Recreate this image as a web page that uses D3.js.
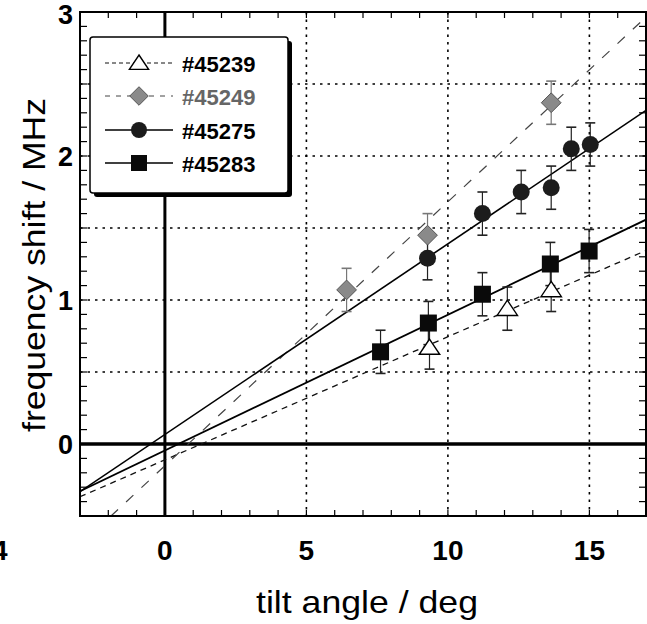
<!DOCTYPE html>
<html>
<head>
<meta charset="utf-8">
<script src="https://cdn.jsdelivr.net/npm/d3@7"></script>
<style>
  body { margin: 0; background: #fff; }
  svg { font-family: "Liberation Sans", Arial, Helvetica, sans-serif; }
</style>
</head>
<body>
<svg></svg>
<script>
// data
const series = ['#45239', '#45249', '#45275', '#45283'];

const tri45239 = [[9.35, 0.67], [12.1, 0.94], [13.65, 1.07]];
const dia45249 = [[6.42, 1.07], [9.28, 1.45], [13.65, 2.37]];
const cir45275 = [[9.28, 1.29], [11.22, 1.60], [12.59, 1.75], [13.65, 1.78], [14.36, 2.05], [15.03, 2.08]];
const sq45283 = [[7.62, 0.64], [9.31, 0.84], [11.22, 1.04], [13.62, 1.25], [14.99, 1.34]];
const errBar = 0.15;

// fit lines: [intercept, slope]
const fits = [[-0.11, 0.0855], [-0.151, 0.1833], [0.066, 0.1324], [-0.045, 0.0943]];

const xTicks = [0, 5, 10, 15];
const yTicks = [0, 1, 2, 3];
const xGrid = [5, 10, 15];
const yGrid = [0.5, 1, 1.5, 2, 2.5];

const size = {w: 647, h: 624};
const plot = {l: 80, r: 646, t: 12, b: 516};
const svg = d3.select('svg').attr('width', size.w).attr('height', size.h);

const x = d3.scaleLinear().domain([-3, 17]).range([plot.l, plot.r]);
const y = d3.scaleLinear().domain([-0.5, 3]).range([plot.b, plot.t]);

svg.append('defs').append('clipPath').attr('id', 'clip')
    .append('rect')
    .attr('x', plot.l).attr('y', plot.t)
    .attr('width', plot.r - plot.l).attr('height', plot.b - plot.t);

// dotted grid
const gridG = svg.append('g').attr('stroke', '#000').attr('stroke-width', 1.6)
    .attr('stroke-dasharray', '2.5,5');
gridG.selectAll('line.gx').data(xGrid).join('line')
    .attr('x1', d => x(d)).attr('x2', d => x(d))
    .attr('y1', plot.t).attr('y2', plot.b);
gridG.selectAll('line.gy').data(yGrid).join('line')
    .attr('x1', plot.l).attr('x2', plot.r)
    .attr('y1', d => y(d)).attr('y2', d => y(d));

// zero lines
svg.append('line').attr('x1', x(0)).attr('x2', x(0)).attr('y1', plot.t).attr('y2', plot.b)
    .attr('stroke', '#000').attr('stroke-width', 3);
svg.append('line').attr('x1', plot.l).attr('x2', plot.r).attr('y1', y(0)).attr('y2', y(0))
    .attr('stroke', '#000').attr('stroke-width', 3.5);

// minor ticks (inward, all four sides)
const tickG = svg.append('g').attr('stroke', '#000').attr('stroke-width', 1.2);
const xMinor = d3.range(-3, 17.01, 1);
const yMinor = d3.range(-0.5, 3.001, 0.1);
tickG.selectAll('line.bt').data(xMinor).join('line')
    .attr('x1', d => x(d)).attr('x2', d => x(d)).attr('y1', plot.b).attr('y2', plot.b - 6);
tickG.selectAll('line.tp').data(xMinor).join('line')
    .attr('x1', d => x(d)).attr('x2', d => x(d)).attr('y1', plot.t).attr('y2', plot.t + 6);
tickG.selectAll('line.lf').data(yMinor).join('line')
    .attr('x1', plot.l).attr('x2', plot.l + 7).attr('y1', d => y(d)).attr('y2', d => y(d));
tickG.selectAll('line.rt').data(yMinor).join('line')
    .attr('x1', plot.r).attr('x2', plot.r - 7).attr('y1', d => y(d)).attr('y2', d => y(d));

// fit lines
const lineStyles = [
    {stroke: '#111', width: 1.3, dash: '6,5'},
    {stroke: '#444', width: 1.2, dash: '10,11'},
    {stroke: '#000', width: 1.6, dash: null},
    {stroke: '#000', width: 1.8, dash: null}
];
const fitG = svg.append('g').attr('clip-path', 'url(#clip)');
fits.forEach((f, i) => {
    const st = lineStyles[i];
    fitG.append('line')
        .attr('x1', x(-3)).attr('y1', y(f[0] + f[1] * -3))
        .attr('x2', x(17)).attr('y2', y(f[0] + f[1] * 17))
        .attr('stroke', st.stroke).attr('stroke-width', st.width)
        .attr('stroke-dasharray', st.dash);
});

// markers
function marker(g, kind, cx, cy, s) {
    if (kind === 0) {
        g.append('path')
            .attr('d', `M${cx},${cy - s * 0.5}L${cx + s * 0.6},${cy + s * 0.4}L${cx - s * 0.6},${cy + s * 0.4}Z`)
            .attr('fill', '#fff').attr('stroke', '#000').attr('stroke-width', 1.4);
    } else if (kind === 1) {
        g.append('path')
            .attr('d', `M${cx},${cy - s * 0.58}L${cx + s * 0.58},${cy}L${cx},${cy + s * 0.58}L${cx - s * 0.58},${cy}Z`)
            .attr('fill', '#8a8a8a').attr('stroke', '#555').attr('stroke-width', 1);
    } else if (kind === 2) {
        g.append('circle').attr('cx', cx).attr('cy', cy).attr('r', s * 0.5)
            .attr('fill', '#1c1c1c');
    } else {
        g.append('rect').attr('x', cx - s * 0.5).attr('y', cy - s * 0.5)
            .attr('width', s).attr('height', s).attr('fill', '#0a0a0a');
    }
}

const allData = [tri45239, dia45249, cir45275, sq45283];
const barColor = ['#222', '#777', '#222', '#222'];
const ptG = svg.append('g');
allData.forEach((data, i) => {
    data.forEach(d => {
        const cx = x(d[0]);
        const g = ptG.append('g').attr('stroke', barColor[i]).attr('stroke-width', 1.2);
        g.append('line').attr('x1', cx).attr('x2', cx)
            .attr('y1', y(d[1] - errBar)).attr('y2', y(d[1] + errBar));
        [d[1] - errBar, d[1] + errBar].forEach(v => {
            g.append('line').attr('x1', cx - 5).attr('x2', cx + 5)
                .attr('y1', y(v)).attr('y2', y(v)).attr('stroke-width', 1.6);
        });
    });
});
allData.forEach((data, i) => {
    data.forEach(d => marker(ptG, i, x(d[0]), y(d[1]), 17));
});

// frame
svg.append('rect').attr('x', plot.l).attr('y', plot.t)
    .attr('width', plot.r - plot.l).attr('height', plot.b - plot.t)
    .attr('fill', 'none').attr('stroke', '#000').attr('stroke-width', 2);

// tick labels
svg.append('g').selectAll('text').data(xTicks).join('text')
    .attr('x', d => x(d)).attr('y', 550)
    .attr('text-anchor', 'middle').attr('dominant-baseline', 'central')
    .attr('font-size', 28).attr('font-weight', 'bold')
    .text(d => d);
svg.append('g').selectAll('text').data(yTicks).join('text')
    .attr('x', 73).attr('y', d => Math.max(y(d) + 1, 15))
    .attr('text-anchor', 'end').attr('dominant-baseline', 'central')
    .attr('font-size', 27).attr('font-weight', 'bold')
    .text(d => d);
// fragment of a neighbouring panel's label at the left edge
svg.append('text').attr('x', -8).attr('y', 550).attr('dominant-baseline', 'central')
    .attr('font-size', 28).attr('font-weight', 'bold').text('4');

// axis titles
svg.append('text').attr('x', 367).attr('y', 613)
    .attr('text-anchor', 'middle').attr('font-size', 32)
    .attr('textLength', 222).attr('lengthAdjust', 'spacingAndGlyphs')
    .text('tilt angle / deg');
svg.append('text')
    .attr('transform', 'translate(45,' + 265 + ') rotate(-90)')
    .attr('text-anchor', 'middle').attr('font-size', 32)
    .attr('textLength', 334).attr('lengthAdjust', 'spacingAndGlyphs')
    .text('frequency shift / MHz');

// legend
const leg = {x: 90, y: 37, w: 198, h: 156};
const legG = svg.append('g');
legG.append('rect').attr('x', leg.x + 4).attr('y', leg.y + 4)
    .attr('width', leg.w).attr('height', leg.h).attr('rx', 3).attr('fill', '#000');
legG.append('rect').attr('x', leg.x).attr('y', leg.y)
    .attr('width', leg.w).attr('height', leg.h).attr('rx', 3)
    .attr('fill', '#fff').attr('stroke', '#000').attr('stroke-width', 1.5);
const legRows = [63, 96, 130, 163];
const legColor = ['#000', '#666', '#000', '#000'];
series.forEach((s, i) => {
    const st = lineStyles[i];
    const ry = legRows[i];
    legG.append('line').attr('x1', 105).attr('x2', 173).attr('y1', ry).attr('y2', ry)
        .attr('stroke', st.stroke).attr('stroke-width', i < 2 ? 1 : 1.6)
        .attr('stroke-dasharray', i === 0 ? '4,3' : (i === 1 ? '5,6' : null));
    marker(legG, i, 139, ry, 16);
    legG.append('text').attr('x', 182).attr('y', ry + 1)
        .attr('dominant-baseline', 'central')
        .attr('font-size', 22).attr('font-weight', 'bold')
        .attr('fill', legColor[i])
        .text(s);
});
</script>
</body>
</html>
